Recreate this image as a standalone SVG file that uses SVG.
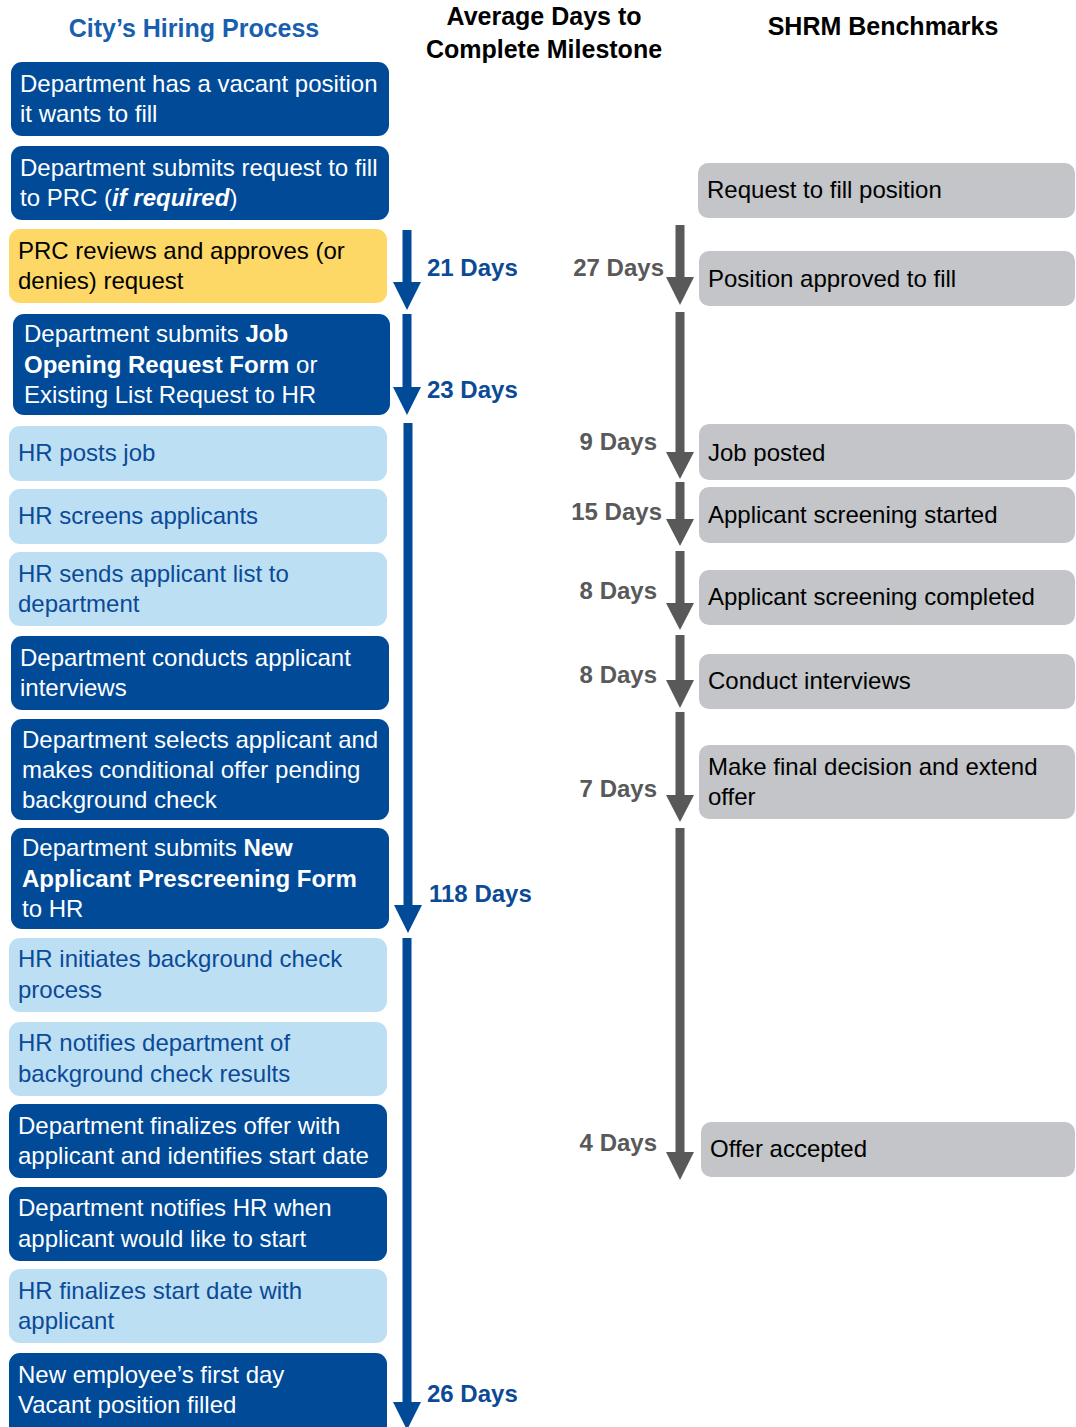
<svg xmlns="http://www.w3.org/2000/svg" width="1076" height="1427" viewBox="0 0 1076 1427">
<style>
text{font-family:"Liberation Sans",Arial,sans-serif;font-size:24px}
.hdr{font-weight:bold;font-size:25px;text-anchor:middle;fill:#000}
.dark rect{fill:#004A98}
.dark text{fill:#fff}
.light rect{fill:#BDDFF4}
.light text{fill:#0B4A96}
.yellow rect{fill:#FDD867}
.yellow text{fill:#000}
.gray rect{fill:#C3C5C8}
.gray text{fill:#000}
.bl{fill:#004A98}
.ga{fill:#595959}
.bday{font-weight:bold;fill:#0B4A96}
.gday{font-weight:bold;fill:#595959;text-anchor:end}
.b{font-weight:bold}
</style>
<rect width="1076" height="1427" fill="#fff"/>
<g id="headers">
<text class="hdr" x="194" y="37" style="fill:#185FB0">City’s Hiring Process</text>
<text class="hdr" x="544" y="25">Average Days to</text>
<text class="hdr" x="544" y="58">Complete Milestone</text>
<text class="hdr" x="883" y="35">SHRM Benchmarks</text>
</g>
<g id="n1" class="dark"><rect x="11" y="62" width="378" height="74" rx="11"/><text x="20" y="92">Department has a vacant position</text><text x="20" y="122">it wants to fill</text></g>
<g id="n2" class="dark"><rect x="11" y="146" width="378" height="74" rx="11"/><text x="20" y="176">Department submits request to fill</text><text x="20" y="206">to PRC (<tspan font-weight="bold" font-style="italic">if required</tspan>)</text></g>
<g id="n3" class="yellow"><rect x="9" y="229" width="378" height="74" rx="11"/><text x="18" y="259">PRC reviews and approves (or</text><text x="18" y="289">denies) request</text></g>
<g id="n4" class="dark"><rect x="13" y="314" width="377" height="101" rx="11"/><text x="24" y="342">Department submits <tspan class="b">Job</tspan></text><text x="24" y="373"><tspan class="b">Opening Request Form</tspan> or</text><text x="24" y="403">Existing List Request to HR</text></g>
<g id="n5" class="light"><rect x="9" y="426" width="378" height="55" rx="11"/><text x="18" y="461">HR posts job</text></g>
<g id="n6" class="light"><rect x="9" y="489" width="378" height="55" rx="11"/><text x="18" y="524">HR screens applicants</text></g>
<g id="n7" class="light"><rect x="9" y="552" width="378" height="74" rx="11"/><text x="18" y="582">HR sends applicant list to</text><text x="18" y="612">department</text></g>
<g id="n8" class="dark"><rect x="11" y="636" width="378" height="74" rx="11"/><text x="20" y="666">Department conducts applicant</text><text x="20" y="696">interviews</text></g>
<g id="n9" class="dark"><rect x="11" y="719" width="378" height="101" rx="11"/><text x="22" y="748">Department selects applicant and</text><text x="22" y="778">makes conditional offer pending</text><text x="22" y="808">background check</text></g>
<g id="n10" class="dark"><rect x="11" y="828" width="378" height="101" rx="11"/><text x="22" y="856">Department submits <tspan class="b">New</tspan></text><text x="22" y="887" class="b">Applicant Prescreening Form</text><text x="22" y="917">to HR</text></g>
<g id="n11" class="light"><rect x="9" y="938" width="378" height="74" rx="11"/><text x="18" y="967">HR initiates background check</text><text x="18" y="998">process</text></g>
<g id="n12" class="light"><rect x="9" y="1022" width="378" height="74" rx="11"/><text x="18" y="1051">HR notifies department of</text><text x="18" y="1082">background check results</text></g>
<g id="n13" class="dark"><rect x="9" y="1104" width="378" height="74" rx="11"/><text x="18" y="1134">Department finalizes offer with</text><text x="18" y="1164">applicant and identifies start date</text></g>
<g id="n14" class="dark"><rect x="9" y="1187" width="378" height="74" rx="11"/><text x="18" y="1216">Department notifies HR when</text><text x="18" y="1247">applicant would like to start</text></g>
<g id="n15" class="light"><rect x="9" y="1269" width="378" height="74" rx="11"/><text x="18" y="1299">HR finalizes start date with</text><text x="18" y="1329">applicant</text></g>
<g id="n16" class="dark"><rect x="9" y="1353" width="378" height="84" rx="11"/><text x="18" y="1383">New employee’s first day</text><text x="18" y="1413">Vacant position filled</text></g>
<g id="s1" class="gray"><rect x="698" y="163" width="377" height="55" rx="10"/><text x="707" y="198">Request to fill position</text></g>
<g id="s2" class="gray"><rect x="699" y="251" width="376" height="55" rx="10"/><text x="708" y="287">Position approved to fill</text></g>
<g id="s3" class="gray"><rect x="699" y="424" width="376" height="56" rx="10"/><text x="708" y="461">Job posted</text></g>
<g id="s4" class="gray"><rect x="699" y="487" width="376" height="56" rx="10"/><text x="708" y="523">Applicant screening started</text></g>
<g id="s5" class="gray"><rect x="699" y="570" width="376" height="55" rx="10"/><text x="708" y="605">Applicant screening completed</text></g>
<g id="s6" class="gray"><rect x="699" y="654" width="376" height="55" rx="10"/><text x="708" y="689">Conduct interviews</text></g>
<g id="s7" class="gray"><rect x="699" y="745" width="376" height="74" rx="10"/><text x="708" y="775">Make final decision and extend</text><text x="708" y="805">offer</text></g>
<g id="s8" class="gray"><rect x="701" y="1122" width="374" height="55" rx="10"/><text x="710" y="1157">Offer accepted</text></g>
<g id="connectors">
<polygon class="bl" points="402.5,230 411.5,230 411.5,282 421,282 407,310 393,282 402.5,282"/>
<polygon class="bl" points="402.5,314 411.5,314 411.5,387 421,387 407,415 393,387 402.5,387"/>
<polygon class="bl" points="403.5,423 412.5,423 412.5,905 422,905 408,933 394,905 403.5,905"/>
<polygon class="bl" points="402.5,938 411.5,938 411.5,1402 421,1402 407,1430 393,1402 402.5,1402"/>
<polygon class="ga" points="675.5,225 684.5,225 684.5,277 694,277 680,305 666,277 675.5,277"/>
<polygon class="ga" points="675.5,312 684.5,312 684.5,452 694,452 680,479 666,452 675.5,452"/>
<polygon class="ga" points="675.5,482 684.5,482 684.5,519 694,519 680,546 666,519 675.5,519"/>
<polygon class="ga" points="675.5,551 684.5,551 684.5,603 694,603 680,630 666,603 675.5,603"/>
<polygon class="ga" points="675.5,635 684.5,635 684.5,680 694,680 680,708 666,680 675.5,680"/>
<polygon class="ga" points="675.5,712 684.5,712 684.5,795 694,795 680,822 666,795 675.5,795"/>
<polygon class="ga" points="675.5,828 684.5,828 684.5,1152 694,1152 680,1180 666,1152 675.5,1152"/>
<text class="bday" x="427" y="276">21 Days</text>
<text class="bday" x="427" y="398">23 Days</text>
<text class="bday" x="429" y="902">118 Days</text>
<text class="bday" x="427" y="1402">26 Days</text>
<text class="gday" x="664" y="276">27 Days</text>
<text class="gday" x="657" y="450">9 Days</text>
<text class="gday" x="662" y="520">15 Days</text>
<text class="gday" x="657" y="599">8 Days</text>
<text class="gday" x="657" y="683">8 Days</text>
<text class="gday" x="657" y="797">7 Days</text>
<text class="gday" x="657" y="1151">4 Days</text>
</g>
</svg>
